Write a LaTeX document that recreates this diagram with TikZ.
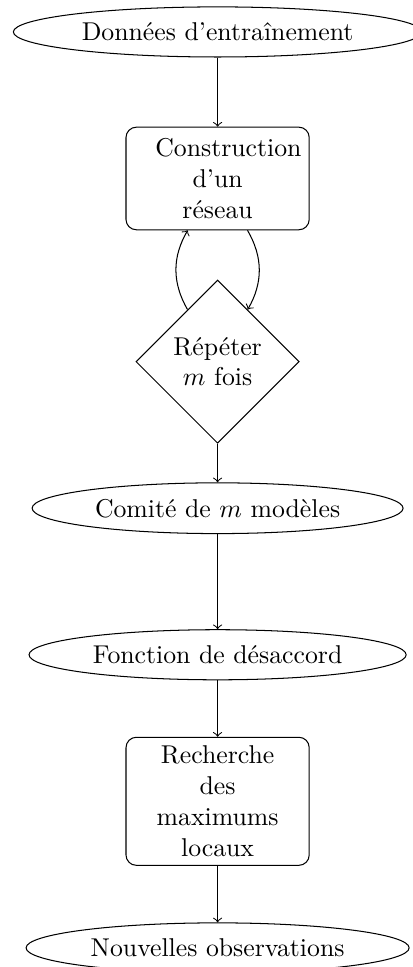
\documentclass[tikz,border=0pt]{standalone}
\usepackage{amsmath}
\usepackage{tikz}
\usetikzlibrary{shapes.geometric}
\begin{document}
\begin{tikzpicture}[
	startstop/.style={ellipse,draw},
	process/.style={rectangle,rounded corners,draw,text width=1.7cm,align=center,minimum width=2.5cm,minimum height=1.4cm},
	decision/.style={diamond,draw,align=center,inner sep=2.5pt}
	]
	\useasboundingbox (-84.5pt,12.4pt) rectangle (75.85pt,-363.1pt);
	
	\node[startstop] (data) at (0,0) {Données d'entraînement};
	\node[process] (reseau) at (0,-2) {Construction d'un réseau};
	\node[decision] (repeter) at (0,-4.5) {Répéter\\$m$ fois};
	\node[startstop] (comite) at (0,-6.5) {Comité de $m$ modèles};
	\node[startstop] (desaccord) at (0,-8.5) {Fonction de désaccord};
	\node[process] (maxima) at (0,-10.5) {Recherche des maximums locaux};
	\node[startstop] (obs) at (0,-12.5) {Nouvelles observations};
	
	\draw[->] (data) -- (reseau);
	\draw[->] (reseau) to[bend left] (repeter);
	\draw[->] (repeter) to[bend left] (reseau);
	\draw[->] (repeter) -- (comite);
	\draw[->] (comite) -- (desaccord);
	\draw[->] (desaccord) -- (maxima);
	\draw[->] (maxima) -- (obs);
\end{tikzpicture}
\end{document}
